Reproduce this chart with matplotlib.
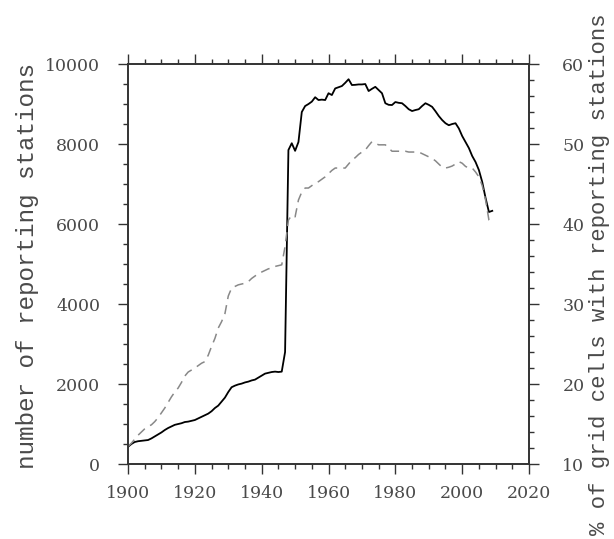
import numpy as np
import matplotlib
matplotlib.use("Agg")
import matplotlib.pyplot as plt
from matplotlib.ticker import MultipleLocator

plt.rcParams['font.family'] = ['DejaVu Serif']

# ── data ──────────────────────────────────────────────────
years = list(range(1900, 2010))

stations = [
    430, 500, 550, 570, 580, 590, 600, 640, 690, 740,
    790, 850, 900, 940, 980, 1000, 1020, 1050, 1060, 1080,
    1100, 1140, 1180, 1220, 1260, 1320, 1400, 1460, 1560, 1660,
    1800, 1920, 1960, 1990, 2010, 2040, 2060, 2090, 2110, 2160,
    2210, 2260, 2280, 2300, 2310, 2300, 2310, 2800, 7850, 8020,
    7830, 8050, 8800, 8950, 9000, 9060, 9170, 9100, 9110, 9100,
    9270, 9225, 9390, 9420, 9450, 9530, 9620, 9475, 9480, 9490,
    9490, 9500, 9325, 9380, 9430, 9350, 9270, 9020, 8980, 8975,
    9050, 9030, 9020, 8950, 8870, 8825, 8850, 8870, 8950, 9020,
    8980, 8930, 8820, 8700, 8600, 8520, 8470, 8500, 8520, 8390,
    8200, 8050, 7900, 7700, 7550, 7350, 7050, 6650, 6300, 6330,
]

pct_cells = [
    12.2, 12.6, 13.1, 13.6, 14.0, 14.4, 14.7, 14.9, 15.3, 15.8,
    16.4, 17.0, 17.7, 18.4, 19.0, 19.5, 20.2, 21.0, 21.5, 21.75,
    22.0, 22.3, 22.6, 22.8, 23.6, 24.7, 25.7, 27.0, 27.8, 28.8,
    31.0, 32.0, 32.2, 32.4, 32.5, 32.6, 32.8, 33.2, 33.5, 33.8,
    34.0, 34.2, 34.4, 34.5, 34.7, 34.8, 34.9, 37.2, 40.5, 41.1,
    40.9, 43.0, 44.0, 44.5, 44.5, 44.8, 45.1, 45.3, 45.6, 45.9,
    46.3, 46.7, 47.0, 47.0, 47.0, 47.0, 47.5, 48.0, 48.3, 48.7,
    49.0, 49.25, 49.8, 50.3, 50.1, 49.9, 49.9, 49.9, 49.5, 49.1,
    49.1, 49.1, 49.1, 49.1, 49.0, 49.0, 49.0, 49.0, 48.8, 48.6,
    48.4, 48.2, 47.9, 47.5, 47.1, 47.0, 47.1, 47.25, 47.5, 47.8,
    47.6, 47.2, 47.0, 47.0, 46.5, 45.9, 44.8, 43.0, 40.5, 39.9,
]

x_ticks = [1900, 1920, 1940, 1960, 1980, 2000, 2020]
left_ticks = [0, 2000, 4000, 6000, 8000, 10000]
right_ticks = [10, 20, 30, 40, 50, 60]

AX_C = '#333333'
TXT_C = '#4a4a4a'
LABEL_FONT = ['Liberation Mono', 'DejaVu Sans Mono']

fig = plt.figure(figsize=(6.14, 5.39), dpi=100)
ax = fig.add_axes([0.2085, 0.1391, 0.6531, 0.7421])
ax2 = ax.twinx()

ax.plot(years, stations, color='black', lw=1.3, zorder=3)
ax2.plot(years, pct_cells, color='#888888', lw=1.1, dashes=(6, 4), zorder=2)

ax.set_xlim(1900, 2020)
ax.set_ylim(0, 10000)
ax2.set_ylim(10, 60)

ax.set_xticks(x_ticks)
ax.set_yticks(left_ticks)
ax2.set_yticks(right_ticks)
ax.xaxis.set_minor_locator(MultipleLocator(5))
ax.yaxis.set_minor_locator(MultipleLocator(500))
ax2.yaxis.set_minor_locator(MultipleLocator(2))

for a in (ax, ax2):
    for sp in a.spines.values():
        sp.set_color(AX_C)
        sp.set_linewidth(1.2)

ax.tick_params(which='both', direction='out', top=True, color=AX_C, width=1.0,
               labelsize=12.5, labelcolor=TXT_C)
ax.tick_params(which='major', length=7, pad=13)
ax.tick_params(which='minor', length=3.5)
ax.tick_params(axis='x', pad=8)
ax2.tick_params(which='both', direction='out', color=AX_C, width=1.0,
                labelsize=12.5, labelcolor=TXT_C)
ax2.tick_params(which='major', length=7, pad=17)
ax2.tick_params(which='minor', length=3.5)

fig.text(0.044, 0.5065, 'number of reporting stations', rotation=90,
         ha='center', va='center', fontsize=17.5, color=TXT_C, family=LABEL_FONT)
fig.text(0.977, 0.4917, '% of grid cells with reporting stations', rotation=90,
         ha='center', va='center', fontsize=16, color=TXT_C, family=LABEL_FONT)

fig.savefig('out.png', dpi=100, facecolor='white')
